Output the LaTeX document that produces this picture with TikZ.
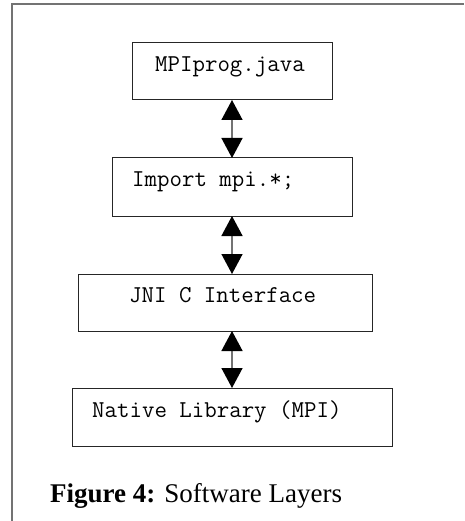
\documentclass[tikz,border=0pt]{standalone}
\usepackage{fontspec}
\setmainfont{Liberation Serif}
\usetikzlibrary{arrows.meta}
\begin{document}
\begin{tikzpicture}[x=1pt,y=-1pt,
  layerbox/.style={draw=black!85,line width=1pt,inner sep=0pt,outer sep=0pt,rectangle},
  code/.style={font=\ttfamily\fontsize{24.2}{27}\selectfont,anchor=base west,inner sep=0pt},
  link/.style={draw=black!55,line width=1.5pt,
    {Triangle[length=20pt,width=21pt,black]}-{Triangle[length=20pt,width=21pt,black]}},
  frameline/.style={draw=black!55,line width=1.5pt}]
\useasboundingbox (0,0) rectangle (464,521);
% frame
\coordinate (fa) at (12,521);
\coordinate (fb) at (12,4);
\coordinate (fc) at (464,4);
\draw[frameline] (fa) -- (fb) -- (fc);
% boxes
\node[layerbox,minimum width=200pt,minimum height=57pt] (b1) at (232,71.5) {};
\node[layerbox,minimum width=240pt,minimum height=58pt] (b2) at (232,187) {};
\node[layerbox,minimum width=294pt,minimum height=57pt] (b3) at (225,302.5) {};
\node[layerbox,minimum width=320pt,minimum height=58pt] (b4) at (232,417) {};
% texts
\node[code] (t1) at (155,72) {MPIprog.java};
\node[code] (t2) at (132,186) {Import mpi.*;};
\node[code] (t3) at (129,302) {JNI C Interface};
\node[code] (t4) at (92,417) {Native Library (MPI)};
% arrows
\draw[link] (b1.south -| 232,0) -- (b2.north -| 232,0);
\draw[link] (b2.south -| 232,0) -- (b3.north -| 232,0);
\draw[link] (b3.south -| 232,0) -- (b4.north -| 232,0);
% caption
\node[font=\fontsize{27}{30}\selectfont,anchor=base west,inner sep=0pt] (cap) at (50,502) {\textbf{Figure 4:} Software Layers};
\end{tikzpicture}
\end{document}
